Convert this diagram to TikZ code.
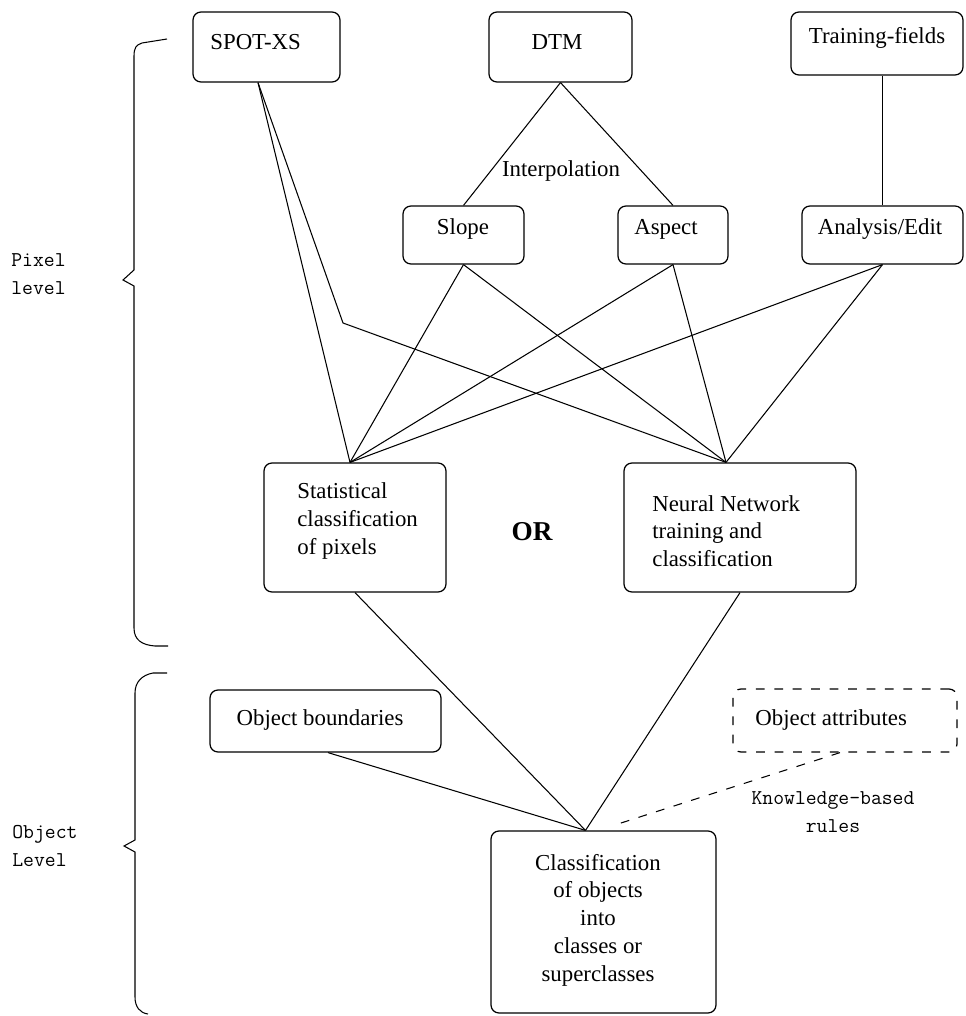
\documentclass[tikz,border=0pt]{standalone}
\usepackage{fontspec}
\setmainfont{Liberation Serif}

\tikzset{
  box/.style={draw, rounded corners=4.5pt, line width=0.7pt, inner sep=0pt},
  dbox/.style={box, dash pattern=on 5pt off 5.5pt},
  txt/.style={font=\fontsize{13}{15.8}\selectfont, inner sep=0pt},
  side/.style={font=\fontsize{12}{16}\selectfont\ttfamily, inner sep=0pt},
  link/.style={line width=0.6pt},
}

\begin{document}
\begin{tikzpicture}[x=0.02cm, y=-0.02cm]
    \useasboundingbox (0,0) rectangle (965,1016);

    % pixel level boxes
    \node[box, minimum width=2.94cm, minimum height=1.4cm] (spot) at (266.5,47) {};
    \node[txt, anchor=west] (spotlbl) at (210,42) {SPOT-XS};
    \node[box, minimum width=2.86cm, minimum height=1.4cm] (dtm) at (560.5,47) {};
    \node[txt] (dtmlbl) at (557,42) {DTM};
    \node[box, minimum width=3.44cm, minimum height=1.26cm] (train) at (877,43.5) {};
    \node[txt] (trainlbl) at (877,38) {Training-fields};

    \node[txt] (interp) at (561,171) {Interpolation};

    \node[box, minimum width=2.42cm, minimum height=1.16cm] (slope) at (463.5,235) {};
    \node[txt] (slopelbl) at (463,229) {Slope};
    \node[box, minimum width=2.2cm, minimum height=1.16cm] (aspect) at (673,235) {};
    \node[txt] (aspectlbl) at (666,229) {Aspect};
    \node[box, minimum width=3.22cm, minimum height=1.16cm] (anal) at (882.5,235) {};
    \node[txt] (anallbl) at (880,229) {Analysis/Edit};

    \node[box, minimum width=3.64cm, minimum height=2.58cm] (stat) at (355,527.5) {};
    \node[txt, anchor=west, align=left] (statlbl) at (297,521) {Statistical\\classification\\of pixels};
    \node[font=\fontsize{15.5}{18}\selectfont\bfseries, inner sep=0pt] (or) at (532,532) {OR};
    \node[box, minimum width=4.64cm, minimum height=2.58cm] (neural) at (740,527.5) {};
    \node[txt, anchor=west, align=left] (neurallbl) at (652,531) {Neural Network\\training and\\classification};

    % object level boxes
    \node[box, minimum width=4.62cm, minimum height=1.24cm] (objb) at (325.5,721) {};
    \node[txt] (objblbl) at (320,720) {Object boundaries};
    \node[dbox, minimum width=4.48cm, minimum height=1.26cm] (obja) at (845,720.5) {};
    \node[txt, anchor=west] (objalbl) at (755,720) {Object attributes};
    \node[box, minimum width=4.5cm, minimum height=3.64cm] (class) at (603.5,922) {};
    \node[txt, align=center] (classlbl) at (598,920) {Classification\\of objects\\into\\classes or\\superclasses};
    \node[side, align=center] (rules) at (833,812) {Knowledge\textendash based\\rules};

    % attach points
    \coordinate (spotout) at ([xshift=-0.17cm]spot.south);
    \coordinate (bend) at (343,323);
    \coordinate (statin) at ([xshift=-0.1cm]stat.north);
    \coordinate (neurin) at ([xshift=-0.28cm]neural.north);
    \coordinate (cin) at ([xshift=-0.36cm]class.north);

    \draw[link] (dtm.south) -- (slope.north);
    \draw[link] (dtm.south) -- (aspect.north);
    \draw[link] (anal.north) -- (anal.north |- train.south);
    \draw[link] (spotout) -- (statin);
    \draw[link] (spotout) -- (bend) -- (neurin);
    \foreach \src in {slope, aspect, anal} {
        \draw[link] (\src.south) -- (statin);
        \draw[link] (\src.south) -- (neurin);
    }
    \draw[link] (stat.south) -- (cin);
    \draw[link] (neural.south) -- (cin);
    \draw[link] ([xshift=0.05cm]objb.south) -- (cin);
    \draw[link, dash pattern=on 5pt off 5.5pt] ([xshift=-0.1cm]obja.south) -- ([xshift=0.2cm,yshift=0.1cm]class.north);

    % braces
    \draw[link] (167,39) -- (142,43) .. controls (136,45) and (134,48) .. (134,56)
        -- (134,270) -- (123,280) -- (134,286) -- (134,628)
        .. controls (134,640) and (142,645) .. (155,646) -- (168,646);
    \node[side, anchor=west, align=left] (pixlbl) at (11,274.5) {Pixel\\level};

    \draw[link] (167,673) -- (153,673) .. controls (142,675) and (135,682) .. (135,693)
        -- (135,840) -- (124,846) -- (135,852) -- (135,997)
        .. controls (135,1007) and (140,1013) .. (148,1014);
    \node[side, anchor=west, align=left] (objlbl) at (12,846) {Object\\Level};
\end{tikzpicture}
\end{document}
